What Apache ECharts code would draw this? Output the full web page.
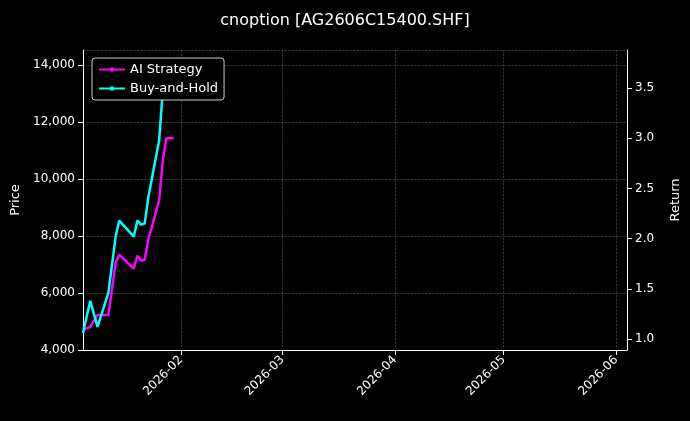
<!DOCTYPE html>
<html>
<head>
<meta charset="UTF-8">
<title>cnoption</title>
<script src="https://cdn.jsdelivr.net/npm/echarts@6/dist/echarts.min.js"></script>
<style>html,body{margin:0;background:#000;}</style>
</head>
<body>
<div id="main" style="width:690px;height:421px;"></div>
<script>
// data
var dates = ['2026-01-05','2026-01-07','2026-01-09','2026-01-12','2026-01-14','2026-01-15','2026-01-19','2026-01-20','2026-01-21','2026-01-22','2026-01-23','2026-01-26','2026-01-27','2026-01-28','2026-01-30'];
var aiReturn = [1.09,1.12,1.24,1.24,1.76,1.84,1.70,1.83,1.78,1.79,1.99,2.38,2.78,3.0,3.0];
var bhReturn = [1.06,1.38,1.12,1.46,2.02,2.18,2.02,2.18,2.14,2.15,2.41,2.98,3.48,3.75,null];
var monthTicks = ['2026-02-01','2026-03-01','2026-04-01','2026-05-01','2026-06-01'];
var returnTicks = [1.0,1.5,2.0,2.5,3.0,3.5];

function ms(d){ return Date.UTC(+d.slice(0,4), +d.slice(5,7)-1, +d.slice(8,10)); }
function pairs(vals){ return dates.map(function(d,i){ return [ms(d), vals[i]]; }).filter(function(p){ return p[1]!=null; }); }
var tickMs = monthTicks.map(ms);
function fmt(v){ var d=new Date(v); var m=d.getUTCMonth()+1; return d.getUTCFullYear()+'-'+(m<10?'0'+m:m); }

var chart = echarts.init(document.getElementById('main'));
chart.setOption({
    backgroundColor:'#000',
    animation:false,
    title:{text:'cnoption [AG2606C15400.SHF]',left:'center',top:8,textStyle:{color:'#fff',fontSize:16,fontWeight:'normal',fontFamily:'DejaVu Sans'}},
    legend:{left:92,top:58,orient:'vertical',itemGap:6,itemWidth:26,itemHeight:3,
        backgroundColor:'#000',borderColor:'#ccc',borderWidth:1,borderRadius:3,padding:[5,6],
        textStyle:{color:'#fff',fontSize:13,fontFamily:'DejaVu Sans'},
        data:['AI Strategy','Buy-and-Hold']},
    grid:{left:83,right:62,top:50,bottom:71},
    xAxis:{type:'value',min:ms('2026-01-05'),max:ms('2026-06-04'),
        axisLine:{lineStyle:{color:'#fff'}},
        axisTick:{customValues:tickMs,lineStyle:{color:'#fff'}},
        axisLabel:{customValues:tickMs,formatter:fmt,rotate:45,color:'#fff',fontSize:12,fontFamily:'DejaVu Sans'},
        splitLine:{show:true,lineStyle:{color:'#555',type:'dashed',width:0.6}}},
    yAxis:[
        {type:'value',name:'Price',nameLocation:'middle',nameGap:52,nameTextStyle:{color:'#fff',fontSize:13,fontFamily:'DejaVu Sans'},
         min:4000,max:14526,interval:2000,
         axisLine:{show:true,lineStyle:{color:'#fff'}},axisTick:{show:true},
         axisLabel:{color:'#fff',fontSize:12,fontFamily:'DejaVu Sans',showMaxLabel:false},
         splitLine:{show:true,lineStyle:{color:'#555',type:'dashed',width:0.6}}},
        {type:'value',name:'Return',nameLocation:'middle',nameGap:42,nameTextStyle:{color:'#fff',fontSize:13,fontFamily:'DejaVu Sans'},
         min:0.89,max:3.88,
         axisLine:{show:true,lineStyle:{color:'#fff'}},
         axisTick:{show:true,customValues:returnTicks},
         axisLabel:{customValues:returnTicks,color:'#fff',fontSize:12,fontFamily:'DejaVu Sans',formatter:function(v){return v.toFixed(1);}},
         splitLine:{show:false}}
    ],
    series:[
        {name:'AI Strategy',type:'line',yAxisIndex:1,data:pairs(aiReturn),showSymbol:false,lineStyle:{color:'#ff00ff',width:2.5},itemStyle:{color:'#ff00ff'}},
        {name:'Buy-and-Hold',type:'line',yAxisIndex:1,data:pairs(bhReturn),showSymbol:false,lineStyle:{color:'#00ffff',width:2.5},itemStyle:{color:'#00ffff'}}
    ]
});
</script>
</body>
</html>
